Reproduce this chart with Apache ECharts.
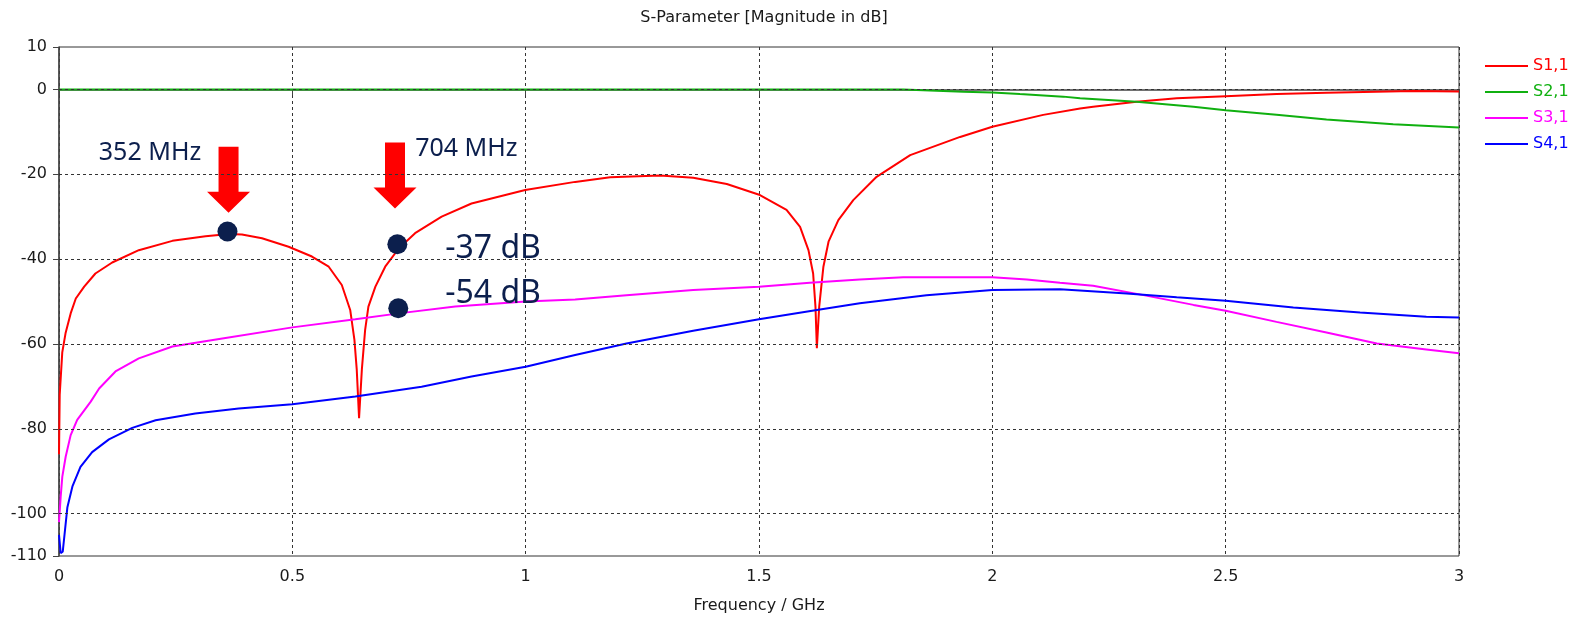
<!DOCTYPE html>
<html>
<head>
<meta charset="utf-8">
<script src="https://cdn.jsdelivr.net/npm/echarts@6/dist/echarts.min.js"></script>
<style>
html, body { margin: 0; padding: 0; background: #fff; }
#main { width: 1579px; height: 623px; }
</style>
</head>
<body>
<div id="main"></div>
<script>
// frequency (GHz) / magnitude (dB)
var s11Freq = [0, 0.0015, 0.007, 0.014, 0.025, 0.036, 0.054, 0.078, 0.114, 0.171, 0.243, 0.314, 0.364, 0.392, 0.435, 0.492, 0.542, 0.578, 0.606, 0.624, 0.633, 0.638, 0.643, 0.649, 0.656, 0.663, 0.678, 0.699, 0.728, 0.763, 0.82, 0.884, 0.999, 1.106, 1.181, 1.288, 1.359, 1.431, 1.502, 1.559, 1.588, 1.606, 1.616, 1.621, 1.624, 1.629, 1.638, 1.649, 1.67, 1.702, 1.752, 1.824, 1.931, 2.0, 2.109, 2.188, 2.216, 2.309, 2.395, 2.5, 2.609, 2.716, 2.902, 3.0];
var s11Db = [-86, -72, -62, -57.5, -52.8, -49.3, -46.5, -43.4, -40.8, -37.9, -35.7, -34.6, -34.1, -34.2, -35.1, -37.1, -39.4, -41.8, -46.1, -52, -59, -66, -77.5, -66, -56.7, -51.2, -46.5, -41.8, -37.5, -33.9, -30, -26.9, -23.7, -21.8, -20.7, -20.3, -20.8, -22.3, -24.9, -28.4, -32.4, -37.9, -43.4, -51.2, -61, -51.2, -41.8, -35.9, -30.8, -26.1, -20.6, -15.5, -11.2, -8.8, -6.0, -4.5, -4.1, -2.9, -2.1, -1.6, -1.1, -0.8, -0.4, -0.5];

var s21Freq = [0, 1.809, 1.938, 2.0, 2.059, 2.152, 2.188, 2.309, 2.431, 2.5, 2.609, 2.716, 2.859, 3.0];
var s21Db = [0, 0, -0.55, -0.7, -1.1, -1.7, -2.1, -2.9, -4.1, -4.9, -6.0, -7.1, -8.2, -9.0];

var s31Freq = [0, 0.0036, 0.0071, 0.0143, 0.025, 0.039, 0.068, 0.086, 0.121, 0.171, 0.243, 0.35, 0.5, 0.635, 0.728, 0.849, 1.0, 1.106, 1.216, 1.359, 1.5, 1.609, 1.716, 1.809, 1.931, 2.0, 2.074, 2.145, 2.216, 2.324, 2.431, 2.5, 2.609, 2.716, 2.824, 2.93, 3.0];
var s31Db = [-102, -96, -91.3, -86.6, -81.5, -77.9, -73.6, -70.5, -66.5, -63.4, -60.6, -58.7, -56.1, -54.2, -52.8, -51.2, -50.0, -49.5, -48.5, -47.3, -46.5, -45.6, -44.8, -44.3, -44.3, -44.3, -44.8, -45.6, -46.3, -48.5, -50.8, -52.2, -54.8, -57.3, -59.9, -61.3, -62.2];

var s41Freq = [0, 0.0036, 0.008, 0.018, 0.029, 0.046, 0.071, 0.107, 0.157, 0.207, 0.292, 0.385, 0.5, 0.635, 0.777, 0.884, 1.0, 1.106, 1.216, 1.359, 1.5, 1.624, 1.716, 1.859, 2.0, 2.145, 2.288, 2.395, 2.5, 2.645, 2.788, 2.93, 3.0];
var s41Db = [-105, -109.3, -109, -98.5, -93.5, -89, -85.5, -82.5, -79.8, -78, -76.4, -75.2, -74.2, -72.4, -70.1, -67.7, -65.4, -62.6, -59.9, -56.9, -54.2, -52, -50.4, -48.5, -47.3, -47.1, -48.1, -49, -49.8, -51.4, -52.6, -53.6, -53.8];

var yTicks = [10, 0, -20, -40, -60, -80, -100, -110];
var yGrid = [0, -20, -40, -60, -80, -100];

// annotations
var dotFreq = [0.361, 0.725, 0.727];
var dotDb = [-33.5, -36.5, -51.6];
var arrowFreq = [0.3633, 0.72];
var arrowDb = [-21.3, -20.3];
var noteText = ['352 MHz', '704 MHz', '-37 dB', '-54 dB'];
var noteFreq = [0.195, 0.873, 0.930, 0.930];
var noteDb = [-15.0, -14.1, -37.7, -48.1];
var noteSize = [25, 25, 32, 32];

function pairs(xs, ys) {
    var out = [];
    for (var i = 0; i < xs.length; i++) out.push([xs[i], ys[i]]);
    return out;
}

var axisFont = 'DejaVu Sans';
var navy = '#0c1f4d';

function curve(name, color, xs, ys) {
    return {
        name: name,
        type: 'line',
        showSymbol: false,
        symbol: 'none',
        animation: false,
        z: 3,
        lineStyle: { color: color, width: 2 },
        itemStyle: { color: color },
        data: pairs(xs, ys)
    };
}

var notes = [];
for (var i = 0; i < noteText.length; i++) {
    notes.push({
        value: [noteFreq[i], noteDb[i]],
        label: {
            show: true,
            position: 'inside',
            formatter: noteText[i],
            fontSize: noteSize[i],
            fontFamily: 'Noto Sans',
            color: navy,
            opacity: 1
        }
    });
}

var myChart = echarts.init(document.getElementById('main'));
var option = {
    backgroundColor: '#fff',
    animation: false,
    title: {
        text: 'S-Parameter [Magnitude in dB]',
        left: 759,
        textAlign: 'center',
        top: 5,
        textStyle: { fontFamily: axisFont, fontSize: 16, fontWeight: 'normal', color: '#1a1a1a' }
    },
    legend: {
        orient: 'vertical',
        left: 1480,
        top: 53,
        icon: 'rect',
        itemWidth: 43,
        itemHeight: 2,
        itemGap: 10,
        textStyle: { fontFamily: axisFont, fontSize: 16 },
        data: [
            { name: 'S1,1', textStyle: { color: '#ff0000' } },
            { name: 'S2,1', textStyle: { color: '#10b010' } },
            { name: 'S3,1', textStyle: { color: '#ff00ff' } },
            { name: 'S4,1', textStyle: { color: '#0000ff' } }
        ]
    },
    grid: {
        left: 59,
        right: 120,
        top: 47,
        bottom: 67,
        show: true,
        borderColor: '#333',
        borderWidth: 1
    },
    xAxis: {
        type: 'value',
        min: 0,
        max: 3,
        interval: 0.5,
        name: 'Frequency / GHz',
        nameLocation: 'middle',
        nameGap: 42,
        nameTextStyle: { fontFamily: axisFont, fontSize: 16, color: '#1a1a1a' },
        axisLine: { show: true, lineStyle: { color: '#444', width: 1.5 } },
        axisTick: { show: true, length: 6, lineStyle: { color: '#444' } },
        axisLabel: { margin: 13, fontFamily: axisFont, fontSize: 16, color: '#1a1a1a' },
        splitLine: { show: true, lineStyle: { color: '#333', type: [3, 3], width: 1 } }
    },
    yAxis: {
        type: 'value',
        min: -110,
        max: 10,
        interval: 10,
        axisLine: { show: true, lineStyle: { color: '#444', width: 1.5 } },
        axisTick: { show: true, length: 6, customValues: yTicks, lineStyle: { color: '#444' } },
        axisLabel: { margin: 12, customValues: yTicks, fontFamily: axisFont, fontSize: 16, color: '#1a1a1a' },
        splitLine: { show: false }
    },
    series: [
        {
            name: 'grid',
            type: 'line',
            data: [],
            z: 1,
            silent: true,
            markLine: {
                silent: true,
                symbol: 'none',
                animation: false,
                label: { show: false },
                lineStyle: { color: '#333', type: [3, 3], width: 1 },
                data: yGrid.map(function (v) { return { yAxis: v }; })
            }
        },
        curve('S1,1', '#ff0000', s11Freq, s11Db),
        curve('S2,1', '#10b010', s21Freq, s21Db),
        curve('S3,1', '#ff00ff', s31Freq, s31Db),
        curve('S4,1', '#0000ff', s41Freq, s41Db),
        {
            name: 'arrows',
            type: 'scatter',
            z: 4,
            symbol: 'path://M11.5 0 L31.5 0 L31.5 45 L43 45 L21.5 66 L0 45 L11.5 45 Z',
            symbolSize: [43, 66],
            itemStyle: { color: '#ff0000', opacity: 1 },
            data: pairs(arrowFreq, arrowDb)
        },
        {
            name: 'dots',
            type: 'scatter',
            z: 5,
            symbol: 'circle',
            symbolSize: 20,
            itemStyle: { color: navy, opacity: 1 },
            data: pairs(dotFreq, dotDb)
        },
        {
            name: 'notes',
            type: 'scatter',
            z: 6,
            symbol: 'circle',
            symbolSize: 1,
            itemStyle: { color: 'rgba(0,0,0,0)', opacity: 1 },
            data: notes
        }
    ]
};
myChart.setOption(option);
</script>
</body>
</html>
